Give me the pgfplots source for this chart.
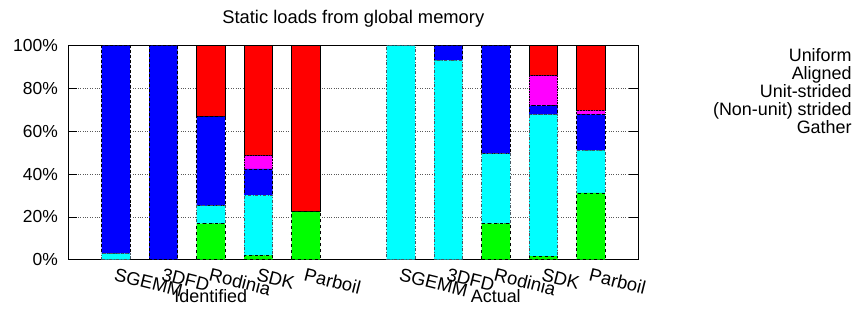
\documentclass[border=0pt]{standalone}
\usepackage{pgfplots}
\pgfplotsset{compat=1.18}
\usepackage{pgfplotstable}
\usepackage{fontspec}
\setmainfont{Liberation Sans}
\definecolor{gpgreen}{RGB}{0,255,0}
\definecolor{gpcyan}{RGB}{0,255,255}
\definecolor{gpblue}{RGB}{0,0,255}
\definecolor{gpmagenta}{RGB}{255,0,255}
\definecolor{gpred}{RGB}{255,0,0}
\pgfplotstableread{
x  uniform aligned unit nonunit gather
0  0     2.8   97.2  0     0
1  0     0     100   0     0
2  16.8  8.4   41.6  0     33.2
3  2.0   28.2  12.2  6.2   51.4
4  22.4  0     0     0     77.6
6  0     100   0     0     0
7  0     93.1  6.9   0     0
8  16.8  32.7  50.5  0     0
9  1.7   66.1  4.2   14.0  14.0
10 31.2  19.9  16.8  1.9   30.2
}\loaddata
\begin{document}
\begin{tikzpicture}
\begin{axis}[
  scale only axis, clip=false,
  width=570bp, height=214bp,
  xmin=-1, xmax=11, ymin=0, ymax=100,
  ybar stacked, bar width=0.6,
  xtick={0,1,2,3,4,6,7,8,9,10},
  xticklabels={SGEMM,3DFD,Rodinia,SDK,Parboil,SGEMM,3DFD,Rodinia,SDK,Parboil},
  xtick style={draw=none},
  xticklabel style={rotate=-14, anchor=north west, xshift=-1bp, yshift=-4bp,
    font=\fontsize{18.5}{18.5}\selectfont},
  ytick={0,20,40,60,80,100},
  yticklabels={0\%,20\%,40\%,60\%,80\%,100\%},
  yticklabel style={xshift=-7bp},
  ytick pos=both, ytick align=inside,
  major tick length=9bp,
  ymajorgrids, major grid style={dotted, black!65, line width=0.7bp},
  axis line style={black, line width=1bp},
  tick style={black, line width=0.7bp},
  font=\fontsize{17.5}{17.5}\selectfont,
  legend style={at={(1.378,0.998)}, anchor=north east, draw=none, fill=none,
    inner sep=0pt, font=\fontsize{18}{18}\selectfont, row sep=-0.5bp,
    cells={anchor=east}},
  legend image code/.code={},
  legend cell align=right,
]
\addplot[fill=gpgreen, draw=black, dashed, line width=0.6bp] table[x=x, y=uniform]{\loaddata};
\addlegendentry{Uniform}
\addplot[fill=gpcyan, draw=black!70!cyan, dash dot, line width=0.6bp] table[x=x, y=aligned]{\loaddata};
\addlegendentry{Aligned}
\addplot[fill=gpblue, draw=black, densely dashed, line width=0.6bp] table[x=x, y=unit]{\loaddata};
\addlegendentry{Unit-strided}
\addplot[fill=gpmagenta, draw=black, densely dotted, line width=0.6bp] table[x=x, y=nonunit]{\loaddata};
\addlegendentry{(Non-unit) strided}
\addplot[fill=gpred, draw=black, solid, line width=0.6bp] table[x=x, y=gather]{\loaddata};
\addlegendentry{Gather}
\node[font=\fontsize{18.4}{18.4}\selectfont] at (rel axis cs:0.5,1) [yshift=27bp] {Static loads from global memory};
\node[font=\fontsize{18}{18}\selectfont] at (axis cs:2,0) [yshift=-36bp] {Identified};
\node[font=\fontsize{18}{18}\selectfont] at (axis cs:8,0) [yshift=-36bp] {Actual};
\end{axis}
\pgfresetboundingbox
\path (-68.3bp,-49.3bp) rectangle (790.7bp,259.7bp);
\end{tikzpicture}
\end{document}
